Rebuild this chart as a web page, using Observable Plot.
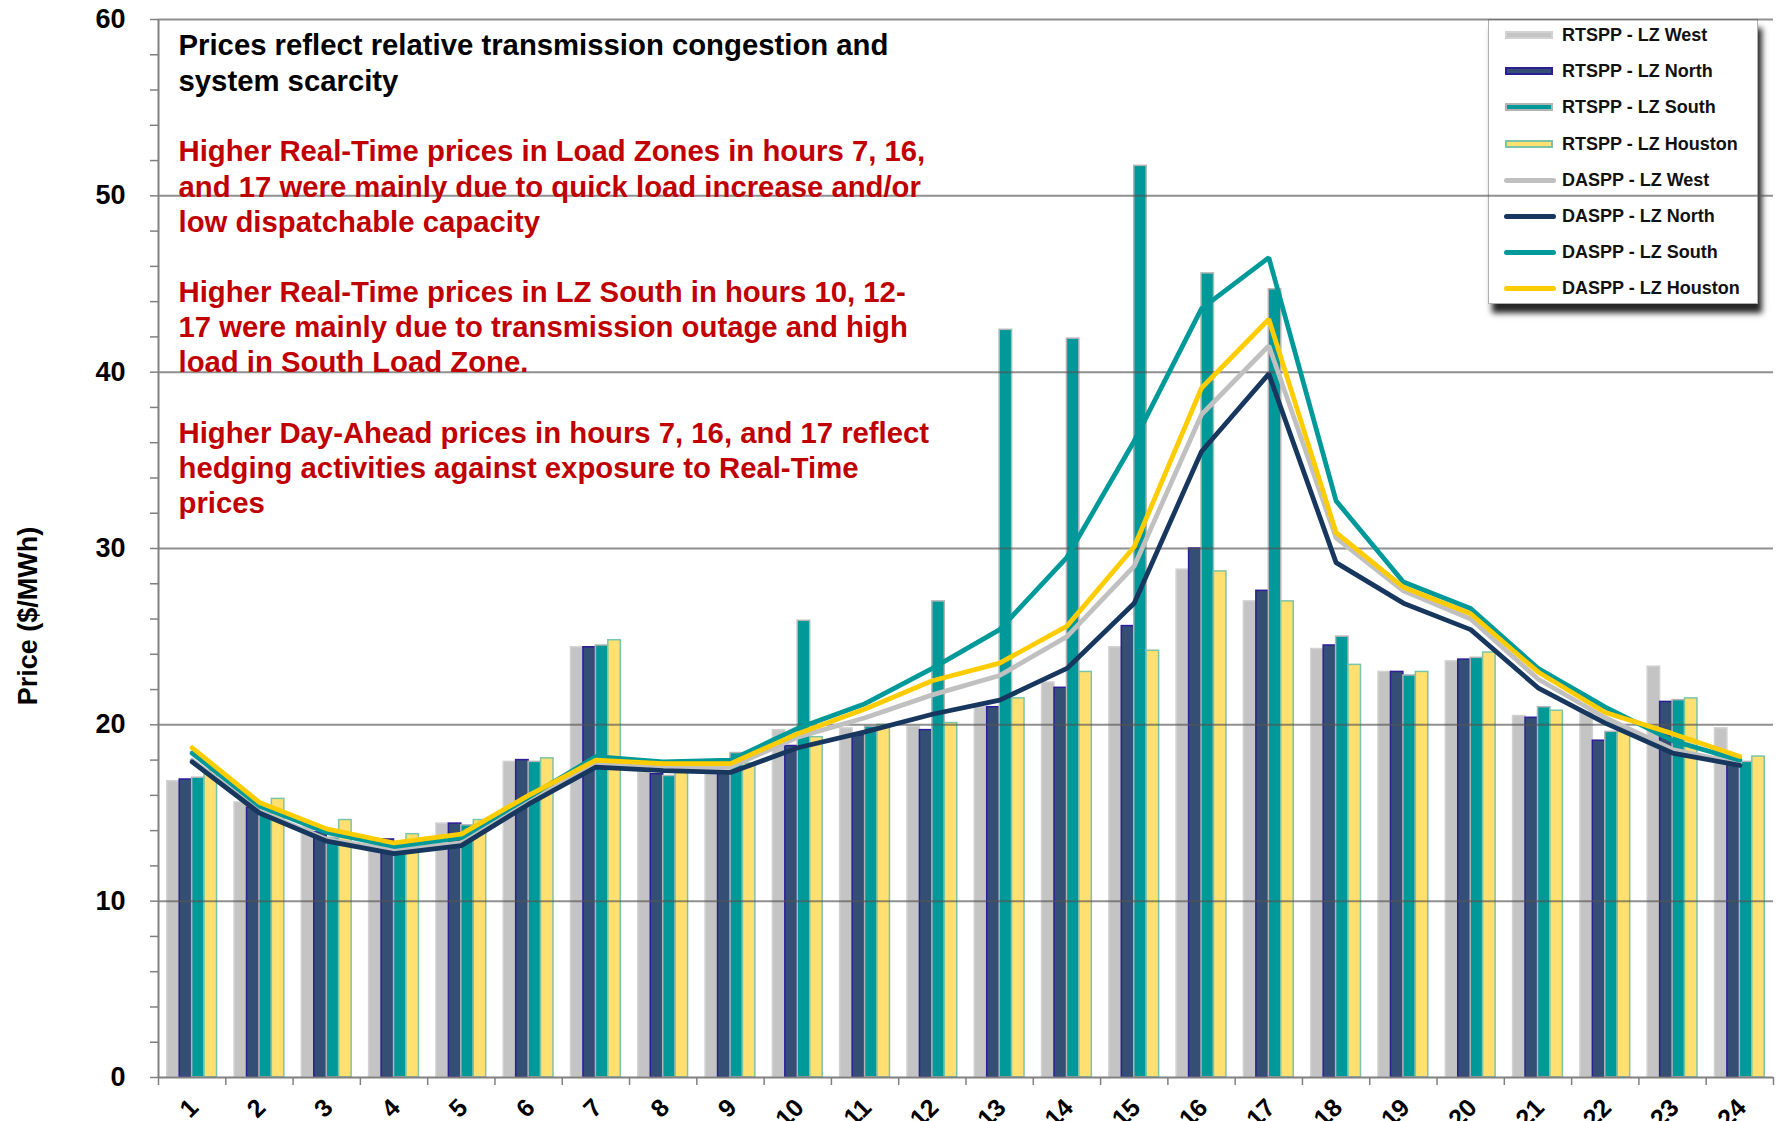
<!DOCTYPE html>
<html><head><meta charset="utf-8">
<script src="https://cdn.jsdelivr.net/npm/d3@7"></script>
<script src="https://cdn.jsdelivr.net/npm/@observablehq/plot@0.6"></script>
<style>
body{margin:0;background:#fff;font-family:"Liberation Sans",Arial,sans-serif;}
#wrap{position:relative;width:1781px;height:1121px;overflow:hidden;background:#fff;}
#legend{position:absolute;left:1488px;top:19px;width:270px;height:285px;background:#fff;border:1px solid #b0b0b0;box-shadow:4px 9px 6px rgba(0,0,0,0.85);z-index:0;box-sizing:border-box;}
#chart{position:absolute;left:0;top:0;z-index:1;}
#ytitle{position:absolute;left:28px;top:616px;transform:translate(-50%,-50%) rotate(-90deg);font-weight:bold;font-size:27px;color:#000;white-space:nowrap;z-index:2;}
.li{position:absolute;left:0;width:268px;height:24px;}
.sw{position:absolute;left:16px;top:8px;width:48px;height:8px;box-sizing:border-box;}
.ln{position:absolute;left:15px;top:10px;width:52px;height:5px;border-radius:3px;}
.lb{position:absolute;left:73px;top:0;line-height:24px;font-weight:bold;font-size:18px;color:#111;white-space:nowrap;}
</style></head><body>
<div id="wrap"><div id="legend"></div><div id="chart"></div><div id="ytitle"></div></div>
<script>
// ---------- data ----------
const hours = [1,2,3,4,5,6,7,8,9,10,11,12,13,14,15,16,17,18,19,20,21,22,23,24];
const rtWest    = [16.8,15.6,14.2,13.2,14.4,17.9,24.4,17.3,17.3,19.7,19.8,19.9,21.0,22.4,24.4,28.8,27.0,24.3,23.0,23.6,20.5,20.7,23.3,19.8];
const rtNorth   = [16.9,15.3,13.9,13.5,14.4,18.0,24.4,17.2,17.3,18.8,19.4,19.7,21.0,22.1,25.6,30.0,27.6,24.5,23.0,23.7,20.4,19.1,21.3,17.9];
const rtSouth   = [17.0,15.0,13.6,13.1,14.3,17.9,24.5,17.1,18.4,25.9,19.9,27.0,42.4,41.9,51.7,45.6,44.7,25.0,22.8,23.8,21.0,19.6,21.4,17.9];
const rtHouston = [17.4,15.8,14.6,13.8,14.6,18.1,24.8,17.3,17.8,19.3,20.0,20.1,21.5,23.0,24.2,28.7,27.0,23.4,23.0,24.1,20.8,19.6,21.5,18.2];
const daWest    = [18.0,15.1,13.5,12.9,13.3,15.6,17.8,17.6,17.6,19.3,20.4,21.7,22.8,25.0,29.0,37.6,41.5,30.6,27.6,26.0,22.6,20.4,18.6,17.8];
const daNorth   = [17.9,15.0,13.4,12.7,13.15,15.5,17.6,17.4,17.3,18.7,19.6,20.6,21.4,23.2,26.9,35.5,39.9,29.2,26.9,25.4,22.1,20.1,18.4,17.7];
const daSouth   = [18.4,15.4,13.9,13.1,13.6,15.9,18.2,17.9,18.0,19.8,21.2,23.2,25.4,29.5,36.1,43.6,46.5,32.7,28.1,26.6,23.2,21.0,19.1,18.0];
const daHouston = [18.7,15.6,14.1,13.3,13.8,16.0,18.0,17.8,17.8,19.5,20.9,22.5,23.5,25.6,30.1,39.1,43.0,30.9,27.8,26.3,23.0,20.7,19.5,18.2];
const yMajor = [0,10,20,30,40,50,60];
const yMinor = [0,2,4,6,8,10,12,14,16,18,20,22,24,26,28,30,32,34,36,38,40,42,44,46,48,50,52,54,56,58,60];
const xBounds = [0.5,1.5,2.5,3.5,4.5,5.5,6.5,7.5,8.5,9.5,10.5,11.5,12.5,13.5,14.5,15.5,16.5,17.5,18.5,19.5,20.5,21.5,22.5,23.5,24.5];
const yTitle = "Price ($/MWh)";
const noteBlack = "Prices reflect relative transmission congestion and\nsystem scarcity";
const noteRed = "Higher Real-Time prices in Load Zones in hours 7, 16,\nand 17 were mainly due to quick load increase and/or\nlow dispatchable capacity\n\nHigher Real-Time prices in LZ South in hours 10, 12-\n17 were mainly due to transmission outage and high\nload in South Load Zone.\n\nHigher Day-Ahead prices in hours 7, 16, and 17 reflect\nhedging activities against exposure to Real-Time\nprices";

const barSeries = [
  {name:"RTSPP - LZ West", values: rtWest, fill:"#c4c4c4", stroke:"#d2d2d2"},
  {name:"RTSPP - LZ North", values: rtNorth, fill:"#344e74", stroke:"#2c1f96"},
  {name:"RTSPP - LZ South", values: rtSouth, fill:"#009999", stroke:"#b4b4b4"},
  {name:"RTSPP - LZ Houston", values: rtHouston, fill:"#ffe070", stroke:"#7cc4a8"}
];
const lineSeries = [
  {name:"DASPP - LZ West", values: daWest, stroke:"#c0c0c0"},
  {name:"DASPP - LZ North", values: daNorth, stroke:"#17375e"},
  {name:"DASPP - LZ South", values: daSouth, stroke:"#009999"},
  {name:"DASPP - LZ Houston", values: daHouston, stroke:"#ffcc00"}
];

// ---------- chart ----------
const pad = 0.13, bw = 0.185;
const marks = [];
barSeries.forEach((s, i) => {
  const rows = hours.map((h, j) => ({hour: h, v: s.values[j]}));
  marks.push(Plot.rectY(rows, {
    x1: d => d.hour - 0.5 + pad + i * bw,
    x2: d => d.hour - 0.5 + pad + (i + 1) * bw,
    y1: 0, y2: "v", fill: s.fill, stroke: s.stroke, strokeWidth: 1.5
  }));
});
marks.push(Plot.ruleY(yMajor.filter(v => v > 0), {stroke: "#555", strokeOpacity: 0.65, strokeWidth: 2}));
lineSeries.forEach(s => {
  const rows = hours.map((h, j) => ({hour: h, v: s.values[j]}));
  marks.push(Plot.line(rows, {x: "hour", y: "v", stroke: s.stroke, strokeWidth: 4.8, strokeLinejoin: "miter", strokeLinecap: "round"}));
});
marks.push(Plot.ruleY([0], {stroke: "#808080", strokeWidth: 2}));
marks.push(Plot.ruleX([0.5], {y1: 0, y2: 60, stroke: "#808080", strokeWidth: 2}));
marks.push(Plot.axisY({ticks: yMinor, tickSize: 8, tickFormat: () => "", stroke: "#808080", strokeWidth: 1.5, label: null}));
marks.push(Plot.axisY({ticks: yMajor, tickSize: 0, tickPadding: 33, fontSize: 27, fontWeight: "bold", fill: "#000", label: null}));
marks.push(Plot.axisX({ticks: xBounds, tickSize: 8, tickFormat: () => "", stroke: "#808080", strokeWidth: 1.5, label: null}));
marks.push(Plot.text(hours, {x: d => d, y: 0, text: d => String(d), rotate: -45, textAnchor: "end", dx: 2, dy: 26, fontSize: 25, fontWeight: "bold", fill: "#000"}));
marks.push(Plot.text([noteBlack], {frameAnchor: "top-left", text: d => d, textAnchor: "start", lineAnchor: "top", dx: 20, dy: 11, fontSize: 29.3, fontWeight: "bold", lineHeight: 1.2, fill: "#000"}));
marks.push(Plot.text([noteRed], {frameAnchor: "top-left", text: d => d, textAnchor: "start", lineAnchor: "top", dx: 20, dy: 117, fontSize: 29.3, fontWeight: "bold", lineHeight: 1.2, fill: "#c00000"}));

const chart = Plot.plot({
  width: 1781, height: 1121,
  marginLeft: 158, marginRight: 8, marginTop: 19, marginBottom: 44,
  x: {type: "linear", domain: [0.5, 24.5], axis: null},
  y: {domain: [0, 60], axis: null},
  style: {fontFamily: "'Liberation Sans', Arial, sans-serif", background: "transparent", overflow: "visible"},
  marks
});
document.getElementById("chart").appendChild(chart);
document.getElementById("ytitle").textContent = yTitle;

// ---------- legend ----------
const leg = document.getElementById("legend");
const items = [...barSeries.map(s => ({...s, kind: "bar"})), ...lineSeries.map(s => ({...s, kind: "line"}))];
items.forEach((s, i) => {
  const row = document.createElement("div");
  row.className = "li";
  row.style.top = (3 + i * 36.2) + "px";
  const sw = document.createElement("div");
  if (s.kind === "bar") {
    sw.className = "sw";
    sw.style.background = s.fill;
    sw.style.border = "2px solid " + s.stroke;
  } else {
    sw.className = "ln";
    sw.style.background = s.stroke;
  }
  const lb = document.createElement("div");
  lb.className = "lb";
  lb.textContent = s.name;
  row.appendChild(sw); row.appendChild(lb);
  leg.appendChild(row);
});
</script>
</body></html>
